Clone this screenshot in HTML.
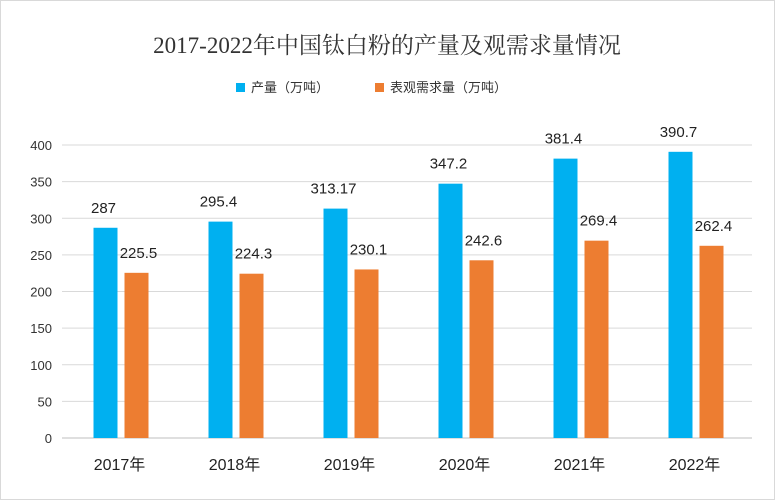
<!DOCTYPE html>
<html><head><meta charset="utf-8"><style>
body{margin:0;background:#fff;}
svg{display:block;}
</style></head><body>
<svg id="chart" width="775" height="500" xmlns="http://www.w3.org/2000/svg">
<rect x="0.5" y="0.5" width="774" height="499" fill="#fff" stroke="#d9d9d9"/>
<text x="387" y="53" text-anchor="middle" font-family="'Liberation Serif','Noto Serif CJK SC',serif" font-size="23" fill="#333">2017-2022年中国钛白粉的产量及观需求量情况</text>
<g>
<rect x="236" y="83" width="9" height="9" fill="#00b0f0"/>
<text x="251" y="92" font-family="'Liberation Sans','Noto Sans CJK SC',sans-serif" font-size="13" fill="#333">产量（万吨）</text>
<rect x="375" y="83" width="9" height="9" fill="#ed7d31"/>
<text x="390" y="92" font-family="'Liberation Sans','Noto Sans CJK SC',sans-serif" font-size="13" fill="#333">表观需求量（万吨）</text>
</g>
<g id="grid"></g><g id="bars"></g>
</svg>
<script>
const categories=["2017年","2018年","2019年","2020年","2021年","2022年"];
const production=[287,295.4,313.17,347.2,381.4,390.7];
const productionLabels=["287","295.4","313.17","347.2","381.4","390.7"];
const demand=[225.5,224.3,230.1,242.6,269.4,262.4];
const demandLabels=["225.5","224.3","230.1","242.6","269.4","262.4"];
const yTicks=[0,50,100,150,200,250,300,350,400];
const NS="http://www.w3.org/2000/svg";
const x0=62,x1=752,yb=438,yt=145,ymax=400;
const y=v=>yb-(v/ymax)*(yb-yt);
const xc=i=>x0+(x1-x0)/categories.length*(i+0.5);
const g=document.getElementById('grid'),b=document.getElementById('bars');
function mk(tag,attrs,parent){const e=document.createElementNS(NS,tag);for(const k in attrs)e.setAttribute(k,attrs[k]);parent.appendChild(e);return e;}
yTicks.forEach(t=>{
 const l=mk('line',{x1:x0,x2:x1,y1:y(t),y2:y(t),stroke:t===0?'#bfbfbf':'#d9d9d9','stroke-width':1},g);
 
 
 const tx=mk('text',{x:52,y:y(t)+5,'text-anchor':'end','font-family':"'Liberation Sans',sans-serif",'font-size':13,fill:'#333'},g);
 tx.textContent=t;
 
 
});
categories.forEach((c,i)=>{
 const cx=xc(i);
 const r1=mk('rect',{x:cx-26,y:y(production[i]),width:24,height:yb-y(production[i]),fill:'#00b0f0'},b);
 
 
 const r2=mk('rect',{x:cx+5,y:y(demand[i]),width:24,height:yb-y(demand[i]),fill:'#ed7d31'},b);
 
 
 const l1=mk('text',{x:cx-16,y:y(production[i])-15,'text-anchor':'middle','font-family':"'Liberation Sans',sans-serif",'font-size':15,fill:'#222'},b);
 l1.textContent=productionLabels[i];
 
 
 const l2=mk('text',{x:cx+19,y:y(demand[i])-15,'text-anchor':'middle','font-family':"'Liberation Sans',sans-serif",'font-size':15,fill:'#222'},b);
 l2.textContent=demandLabels[i];
 
 
 const xl=mk('text',{x:cx,y:470,'text-anchor':'middle','font-family':"'Liberation Sans','Noto Sans CJK SC',sans-serif",'font-size':16,fill:'#222'},b);
 xl.textContent=c;
 
 
});
</script>
</body></html>
